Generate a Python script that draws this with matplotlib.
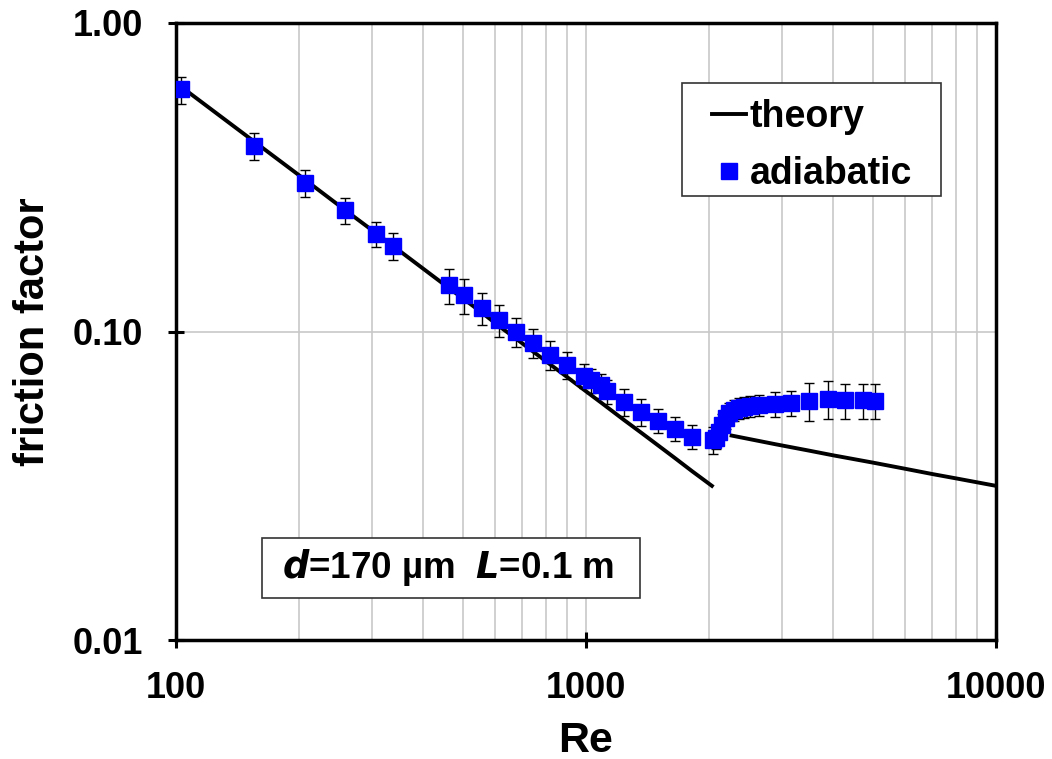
import matplotlib.pyplot as plt
from matplotlib.patches import Rectangle
from matplotlib.ticker import FixedLocator, NullFormatter, FixedFormatter

plt.rcParams['font.family'] = ['Liberation Sans', 'DejaVu Sans']

# measured friction factor (adiabatic)
re_exp = [103, 155, 206, 258, 308, 339, 464, 505, 558, 614, 676, 743, 817, 899,
          989, 1028, 1087, 1124, 1237, 1360, 1497, 1647, 1812, 2038,
          2070, 2107, 2143, 2190, 2229, 2292, 2357, 2423, 2518, 2635,
          2897, 3170, 3490, 3900, 4290, 4725, 5080]
f_exp = [0.609, 0.399, 0.303, 0.247, 0.207, 0.189, 0.141, 0.131, 0.119, 0.109,
         0.100, 0.092, 0.084, 0.078, 0.072, 0.0696, 0.067, 0.064, 0.059, 0.055,
         0.0514, 0.0484, 0.0456, 0.0446,
         0.0453, 0.0474, 0.0499, 0.0525, 0.0545, 0.0557, 0.0565, 0.0569, 0.0573, 0.0577,
         0.0582, 0.0587, 0.0596, 0.0604, 0.0600, 0.0600, 0.0596]
# error bar half length, percent of value
err_pct = [10, 10, 10, 10, 9, 10, 13, 13, 12, 12, 11, 10.5, 10.5, 10,
           9, 9, 9, 9, 10, 10, 9, 9, 9, 10,
           8, 8, 8, 8, 8, 8, 8, 8, 8, 8,
           9, 9, 14, 14, 13, 13, 13]

# theory: laminar branch and turbulent branch
re_lam = [103, 155, 206, 258, 308, 339, 464, 505, 558, 614, 676, 743, 817, 899,
          989, 1087, 1237, 1360, 1497, 1647, 1812, 2028]
f_lam = [0.621, 0.413, 0.311, 0.248, 0.208, 0.189, 0.138, 0.127, 0.115, 0.104,
         0.0947, 0.0861, 0.0783, 0.0712, 0.0647, 0.0589, 0.0517, 0.0471, 0.0428,
         0.0389, 0.0353, 0.0316]
re_turb = [2265, 2900, 3500, 4000, 5000, 6000, 7000, 8000, 10000]
f_turb = [0.0460, 0.0431, 0.0411, 0.0397, 0.0376, 0.0359, 0.0345, 0.0334, 0.0316]

yerr = [f * p / 100 for f, p in zip(f_exp, err_pct)]

W, H = 1052, 759
fig = plt.figure(figsize=(W / 100, H / 100), dpi=100)
ax = fig.add_axes([176 / W, 1 - 640 / H, 820 / W, 617 / H])

ax.plot(re_lam, f_lam, color='black', lw=2.8, label='theory', zorder=3)
ax.plot(re_turb, f_turb, color='black', lw=2.8, zorder=3)
ax.errorbar(re_exp, f_exp, yerr=yerr, fmt='none', ecolor='black', elinewidth=1.0,
            capsize=3.5, capthick=1.0, zorder=4)
ax.plot(re_exp, f_exp, 's', color='#0000ff', ms=11.5, mec='#0000ff',
        label='adiabatic', zorder=5, ls='none')

ax.set_xscale('log')
ax.set_yscale('log')
ax.set_xlim(100, 10000)
ax.set_ylim(0.01, 1.0)

ax.xaxis.set_major_locator(FixedLocator([100, 1000, 10000]))
ax.xaxis.set_major_formatter(FixedFormatter(['100', '1000', '10000']))
ax.xaxis.set_minor_locator(FixedLocator([m * d for d in (100, 1000) for m in range(2, 10)]))
ax.xaxis.set_minor_formatter(NullFormatter())
ax.yaxis.set_major_locator(FixedLocator([0.01, 0.1, 1.0]))
ax.yaxis.set_major_formatter(FixedFormatter(['0.01', '0.10', '1.00']))
ax.yaxis.set_minor_locator(FixedLocator([]))

ax.grid(True, which='major', axis='both', color='#c8c8c8', lw=1.2)
ax.grid(True, which='minor', axis='x', color='#c8c8c8', lw=1.2)
ax.set_axisbelow(True)

for s in ax.spines.values():
    s.set_linewidth(2.5)
    s.set_color('black')

ax.tick_params(which='major', direction='inout', length=12, width=2.2,
               labelsize=26)
ax.tick_params(axis='y', pad=18)
ax.tick_params(axis='x', pad=16)
ax.tick_params(which='minor', length=0)
for lab in ax.get_xticklabels() + ax.get_yticklabels():
    lab.set_fontweight('bold')

ax.set_xlabel('Re', fontsize=31, fontweight='bold', labelpad=11)
ax.set_ylabel('friction factor', fontsize=30, fontweight='bold', labelpad=14)

# legend frame
ax.add_patch(Rectangle((682 / W, 1 - 196 / H), 259 / W, 113 / H, transform=fig.transFigure,
                       fc='white', ec='#333333', lw=1.2, zorder=4.9, clip_on=False))
leg = ax.legend(loc='upper left', bbox_to_anchor=(712 / W, 1 - 99 / H),
                bbox_transform=fig.transFigure, fontsize=27, frameon=False,
                handlelength=0.9, handletextpad=0.1, borderpad=0,
                labelspacing=0.55, borderaxespad=0, markerscale=0.95)
for t in leg.get_texts():
    t.set_fontweight('bold')

# parameter box
ax.add_patch(Rectangle((262 / W, 1 - 598 / H), 378 / W, 60 / H, transform=fig.transFigure,
                       fc='white', ec='#333333', lw=1.2, zorder=4.9, clip_on=False))
ax.text(448 / W, 1 - 568 / H, r'$\bfit{d}$=170 µm  $\bfit{L}$=0.1 m',
        transform=fig.transFigure, fontsize=26.5, fontweight='bold',
        ha='center', va='center', zorder=5)

fig.savefig('out.png', dpi=100)
